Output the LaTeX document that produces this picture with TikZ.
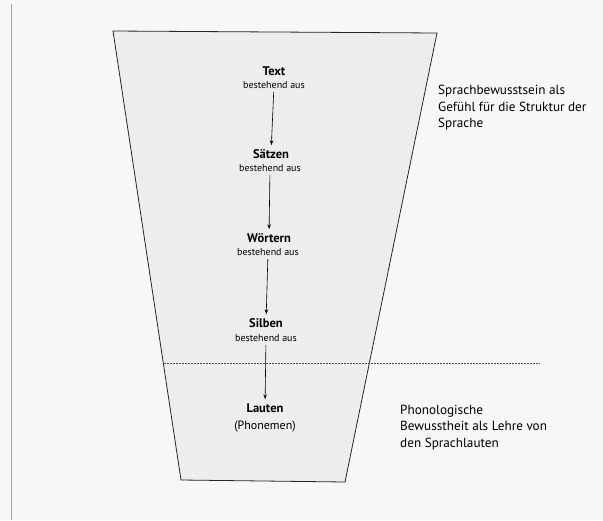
\documentclass[tikz,border=0pt]{standalone}
\usepackage{fontspec}
\setmainfont{PT Sans}
\usetikzlibrary{arrows.meta}
\begin{document}
\begin{tikzpicture}[x=1pt,y=-1pt,
  title/.style={inner sep=1pt, font=\fontsize{12.5}{14}\selectfont\bfseries},
  sub/.style={inner sep=1pt, font=\fontsize{10}{12}\selectfont},
  note/.style={anchor=north west, align=left, inner sep=0pt, font=\fontsize{13.2}{16.4}\selectfont},
  flow/.style={-{Stealth[length=5pt,width=3.5pt]}, line width=0.6pt, shorten <=2pt, shorten >=3pt},
  funnel/.style={draw=black!85, line width=0.8pt, fill=black!7}]
\useasboundingbox (0,0) rectangle (603,520);
\fill[white!97!black] (0,0) rectangle (603,520);
\draw[black!35, line width=0.8pt] (11,4) -- (11,520);
% funnel
\draw[funnel] (113,31) -- (437,33) -- (345,482) -- (181,480) -- cycle;
% levels
\node[title] (t1) at (274,71) {Text};
\node[sub] (s1) at (274,85) {bestehend aus};
\node[title] (t2) at (271,154) {Sätzen};
\node[sub] (s2) at (270,168) {bestehend aus};
\node[title] (t3) at (269,238) {Wörtern};
\node[sub] (s3) at (268,252) {bestehend aus};
\node[title] (t4) at (266,323) {Silben};
\node[sub] (s4) at (266,338) {bestehend aus};
\node[title] (t5) at (265,408) {Lauten};
\node[inner sep=1pt, font=\fontsize{12}{14}\selectfont] (p5) at (265,427) {(Phonemen)};
\draw[flow] (s1) -- (t2);
\draw[flow] (s2) -- (t3);
\draw[flow] (s3) -- (t4);
\draw[flow] (s4) -- (t5);
% separator
\coordinate (dl) at (164,363);
\coordinate (dr) at (540,363);
\draw[black!70, line width=0.7pt, dash pattern=on 1.6pt off 1.4pt] (dl) -- (dr);
% notes
\node[note] (n1) at (438,85) {Sprachbewusstsein als\\Gefühl für die Struktur der\\Sprache};
\node[note] (n2) at (400,405) {Phonologische\\Bewusstheit als Lehre von\\den Sprachlauten};
\end{tikzpicture}
\end{document}
